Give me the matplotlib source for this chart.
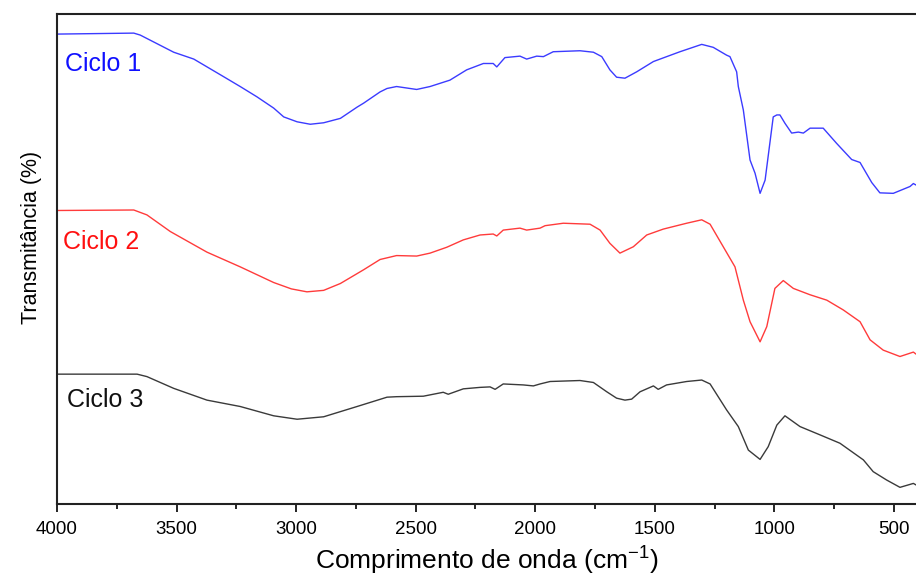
import matplotlib
matplotlib.use("Agg")
import matplotlib.pyplot as plt
from matplotlib.ticker import MultipleLocator

plt.rcParams['font.family'] = ['Liberation Sans', 'DejaVu Sans']
plt.rcParams['mathtext.fontset'] = 'custom'
plt.rcParams['mathtext.rm'] = 'Liberation Sans'

# Ciclo 1 (wavenumber cm-1, transmittance a.u.)
wn1 = [4000, 3679, 3652, 3512, 3428, 3303, 3234, 3164, 3094, 3052, 2996, 2941, 2885,
       2815, 2745, 2718, 2649, 2620,
       2580, 2496, 2440, 2357, 2287, 2217, 2176, 2161, 2127, 2064, 2036, 1994, 1966,
       1925, 1813, 1757, 1722, 1688, 1660, 1625, 1576, 1506, 1395, 1304, 1256, 1200,
       1186, 1158, 1151, 1130, 1102, 1081, 1060, 1039, 1005, 990, 977, 956, 928, 900,
       879, 851, 796, 740, 677, 642, 593, 559, 503, 433, 419, 408]
t1 = [95.9, 96.1, 95.7, 92.2, 90.8, 87.2, 85.2, 83.1, 80.8, 79.0, 78.0, 77.5, 77.8,
      78.7, 81.0, 81.8, 84.1, 84.8,
      85.2, 84.6, 85.2, 86.5, 88.6, 89.9, 89.9, 89.2, 91.1, 91.4, 90.8, 91.4, 91.3,
      92.3, 92.5, 92.2, 91.3, 88.6, 87.1, 86.9, 88.2, 90.3, 92.3, 93.8, 93.2, 91.6,
      91.3, 88.2, 85.2, 80.4, 70.2, 67.5, 63.4, 66.1, 79.0, 79.4, 79.4, 77.7, 75.7, 75.9,
      75.7, 76.7, 76.7, 73.6, 70.3, 69.7, 65.6, 63.5, 63.4, 64.8, 65.4, 65.1]

# Ciclo 2
wn2 = [4000, 3679, 3624, 3526, 3373, 3234, 3094, 3020, 2955, 2885, 2815, 2718, 2649,
       2580, 2496,
       2440, 2370, 2301, 2231, 2176, 2161, 2134, 2064, 2036, 1980, 1959, 1883, 1771,
       1729, 1688, 1646, 1590, 1534, 1465, 1367, 1304, 1269, 1214, 1165, 1130, 1102,
       1060, 1032, 998, 963, 921, 851, 781, 712, 642, 600, 545, 475, 419, 408]
t2 = [59.9, 60.0, 59.0, 55.6, 51.4, 48.4, 45.2, 43.9, 43.3, 43.6, 45.0, 47.8, 49.9,
      50.7, 50.6,
      51.2, 52.4, 53.9, 54.9, 55.1, 54.7, 55.9, 56.3, 55.9, 56.3, 56.8, 57.3, 57.1,
      55.9, 53.2, 51.2, 52.5, 54.9, 56.1, 57.3, 58.0, 57.1, 52.5, 48.4, 41.6, 37.2,
      33.1, 36.2, 44.0, 45.6, 44.0, 42.7, 41.6, 39.6, 37.2, 33.5, 31.4, 30.1, 31.0, 30.6]

# Ciclo 3
wn3 = [4000, 3665, 3624, 3512, 3373, 3234, 3094, 2996, 2885, 2745, 2620, 2580, 2468,
       2385, 2364, 2301, 2231, 2189, 2168, 2134, 2050, 2008, 1980, 1938, 1813, 1757,
       1701, 1660, 1625, 1597, 1562, 1506, 1486, 1451, 1367, 1304, 1269, 1200, 1151,
       1109, 1060, 1026, 990, 956, 893, 809, 726, 628, 587, 531, 475, 419, 408]
t3 = [26.5, 26.5, 26.0, 23.6, 21.2, 19.9, 18.0, 17.3, 17.8, 19.9, 21.8, 21.9, 22.0,
      22.8, 22.4, 23.5, 23.8, 23.9, 23.4, 24.5, 24.3, 24.1, 24.5, 25.0, 25.2, 24.8,
      22.9, 21.6, 21.2, 21.4, 22.9, 24.1, 23.4, 24.3, 25.0, 25.3, 24.5, 19.2, 15.8,
      11.0, 9.1, 11.7, 16.1, 18.0, 15.8, 14.1, 12.4, 9.0, 6.6, 4.9, 3.4, 4.2, 3.9]

labels = ["Ciclo 1", "Ciclo 2", "Ciclo 3"]
colors = ["#3b3bff", "#ff3b3b", "#3a3a3a"]
text_colors = ["#1010ff", "#ff1010", "#111111"]
label_pos = [(3967, 89.8), (3975, 53.5), (3958, 21.2)]

fig = plt.figure(figsize=(9.16, 5.76), dpi=100)
ax = fig.add_axes([57/916, 72/576, 1 - 57/916, 490/576])

for wn, t, c in zip([wn1, wn2, wn3], [t1, t2, t3], colors):
    ax.plot(wn, t, color=c, lw=1.0)

for lab, (x, y), c in zip(labels, label_pos, text_colors):
    ax.text(x, y, lab, color=c, fontsize=18, ha='left', va='center')

ax.set_xlim(4000, 408)
ax.set_ylim(0, 100)
ax.set_yticks([])
ax.xaxis.set_major_locator(MultipleLocator(500))
ax.xaxis.set_minor_locator(MultipleLocator(250))
ax.tick_params(axis='x', which='major', direction='out', length=6, width=1.2,
               labelsize=13.5, pad=6)
ax.tick_params(axis='x', which='minor', direction='out', length=3.5, width=1.2)
for s in ['left', 'bottom', 'top']:
    ax.spines[s].set_linewidth(1.5)
    ax.spines[s].set_color('#222222')
ax.spines['right'].set_visible(False)

ax.set_xlabel(r'Comprimento de onda (cm$^{\mathregular{-1}}$)', fontsize=19, labelpad=4)
ax.set_ylabel('Transmitância (%)', fontsize=15.5)
ax.yaxis.set_label_coords(-0.0175, 0.543)

fig.savefig("out.png", dpi=100)
